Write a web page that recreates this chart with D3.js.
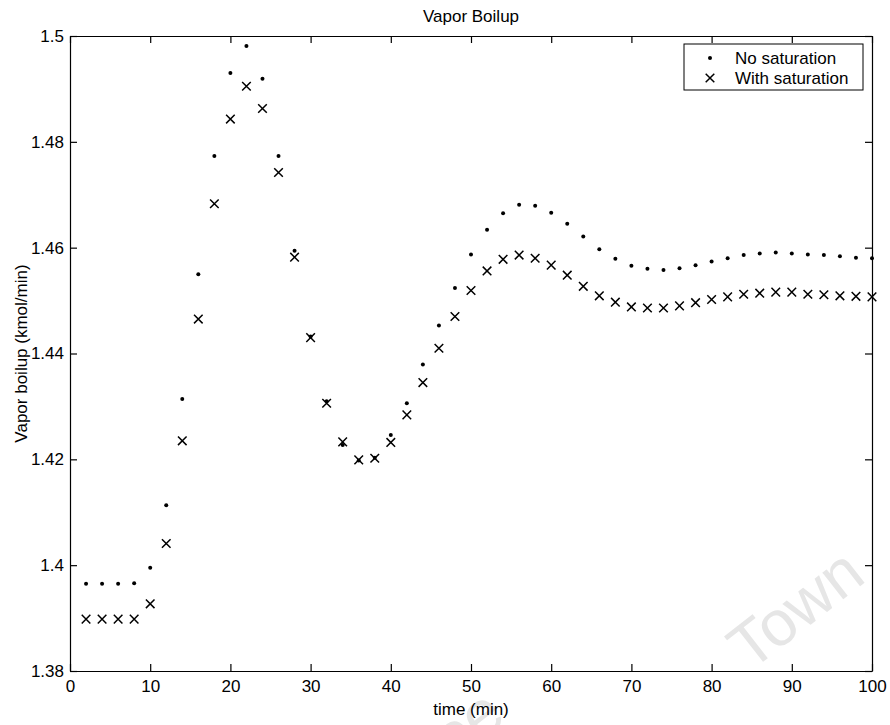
<!DOCTYPE html>
<html>
<head>
<meta charset="utf-8">
<script src="https://cdn.jsdelivr.net/npm/d3@7"></script>
<style>
  body { margin: 0; background: #fff; }
  svg { display: block; font-family: "Liberation Sans", Arial, Helvetica, sans-serif; }
</style>
</head>
<body>
<svg id="chart" width="890" height="725"></svg>
<script>
// sample times (min)
const times = [2, 4, 6, 8, 10, 12, 14, 16, 18, 20, 22, 24, 26, 28, 30, 32, 34, 36, 38, 40,
               42, 44, 46, 48, 50, 52, 54, 56, 58, 60, 62, 64, 66, 68, 70, 72, 74, 76, 78, 80,
               82, 84, 86, 88, 90, 92, 94, 96, 98, 100];

// vapor boilup, no saturation (dots)
const noSaturation = [1.3965, 1.3965, 1.3965, 1.3966, 1.3995, 1.4113, 1.4314, 1.4550, 1.4773, 1.4930,
                      1.4981, 1.4919, 1.4773, 1.4594, 1.4432, 1.4310, 1.4227, 1.4198, 1.4203, 1.4246,
                      1.4306, 1.4379, 1.4453, 1.4524, 1.4587, 1.4634, 1.4665, 1.4681, 1.4679, 1.4666,
                      1.4645, 1.4621, 1.4597, 1.4579, 1.4566, 1.4560, 1.4558, 1.4561, 1.4567, 1.4574,
                      1.4580, 1.4586, 1.4589, 1.4591, 1.4589, 1.4587, 1.4586, 1.4584, 1.4581, 1.4580];

// vapor boilup, with saturation (crosses)
const withSaturation = [1.3898, 1.3898, 1.3898, 1.3898, 1.3927, 1.4041, 1.4235, 1.4465, 1.4683, 1.4843,
                        1.4905, 1.4863, 1.4742, 1.4582, 1.4430, 1.4306, 1.4233, 1.4199, 1.4202, 1.4232,
                        1.4284, 1.4345, 1.4410, 1.4470, 1.4519, 1.4556, 1.4578, 1.4586, 1.4580, 1.4567,
                        1.4548, 1.4527, 1.4509, 1.4497, 1.4488, 1.4486, 1.4486, 1.4490, 1.4496, 1.4502,
                        1.4507, 1.4512, 1.4514, 1.4516, 1.4516, 1.4512, 1.4511, 1.4509, 1.4508, 1.4507];

const xTicks = [0, 10, 20, 30, 40, 50, 60, 70, 80, 90, 100];
const yTicks = [1.38, 1.40, 1.42, 1.44, 1.46, 1.48, 1.50];
const legendLabels = ["No saturation", "With saturation"];

const svg = d3.select("#chart");
const margin = {left: 70, right: 18, top: 36, bottom: 54};
const width = 890 - margin.left - margin.right;
const height = 725 - margin.top - margin.bottom;
const fontSize = 17;

// faint scan watermark (only partly inside the picture)
svg.append("g").attr("fill", "#e6e6e6").style("font-size", "64px")
   .selectAll("text")
   .data([{t: "Cape", x: 508, y: 720, a: "end"}, {t: "Town", x: 750, y: 672, a: "start"}])
   .join("text")
   .attr("transform", d => `translate(${d.x},${d.y}) rotate(-38)`)
   .attr("text-anchor", d => d.a)
   .text(d => d.t);

const g = svg.append("g").attr("transform", `translate(${margin.left},${margin.top})`);

const x = d3.scaleLinear().domain([0, 100]).range([0, width]);
const y = d3.scaleLinear().domain([1.38, 1.5]).range([height, 0]);

const fmt = d => String(+d.toFixed(2));

// axes, MATLAB style: ticks pointing inward on all four sides
function styleAxis(sel) {
    sel.selectAll("path.domain").attr("stroke", "#000").attr("stroke-width", 1.2);
    sel.selectAll(".tick line").attr("stroke", "#000").attr("stroke-width", 1.2);
    sel.selectAll(".tick text").attr("fill", "#000").style("font-size", fontSize + "px")
       .style("font-family", "Liberation Sans, Arial, sans-serif");
}

g.append("g").attr("transform", `translate(0,${height})`)
 .call(d3.axisBottom(x).tickValues(xTicks).tickFormat(d3.format("d")).tickSizeInner(-7).tickSizeOuter(0).tickPadding(9))
 .call(styleAxis);
g.append("g")
 .call(d3.axisTop(x).tickValues(xTicks).tickFormat("").tickSizeInner(-7).tickSizeOuter(0))
 .call(styleAxis);
g.append("g")
 .call(d3.axisLeft(y).tickValues(yTicks).tickFormat(fmt).tickSizeInner(-7).tickSizeOuter(0).tickPadding(6))
 .call(styleAxis);
g.append("g").attr("transform", `translate(${width},0)`)
 .call(d3.axisRight(y).tickValues(yTicks).tickFormat("").tickSizeInner(-7).tickSizeOuter(0))
 .call(styleAxis);

// title and axis labels
g.append("text").attr("x", width / 2).attr("y", -14).attr("text-anchor", "middle")
 .style("font-size", fontSize + "px").text("Vapor Boilup");
g.append("text").attr("x", width / 2).attr("y", height + 44).attr("text-anchor", "middle")
 .style("font-size", fontSize + "px").text("time (min)");
g.append("text").attr("transform", `translate(-43,${height / 2}) rotate(-90)`).attr("text-anchor", "middle")
 .style("font-size", fontSize + "px").text("Vapor boilup (kmol/min)");

// data markers
const crossSymbol = d3.symbol(d3.symbolX, 50);

g.append("g").selectAll("circle")
 .data(times.map((t, i) => [t, noSaturation[i]]))
 .join("circle")
 .attr("cx", d => x(d[0])).attr("cy", d => y(d[1])).attr("r", 2)
 .attr("fill", "#000");

g.append("g").selectAll("path")
 .data(times.map((t, i) => [t, withSaturation[i]]))
 .join("path")
 .attr("d", crossSymbol)
 .attr("transform", d => `translate(${x(d[0])},${y(d[1])})`)
 .attr("fill", "none").attr("stroke", "#000").attr("stroke-width", 1.5);

// legend
const legend = g.append("g").attr("transform", `translate(${width - 188},8)`);
legend.append("rect").attr("width", 179).attr("height", 46)
      .attr("fill", "#fff").attr("stroke", "#000").attr("stroke-width", 1);
legend.append("circle").attr("cx", 26).attr("cy", 14).attr("r", 2).attr("fill", "#000");
legend.append("path").attr("d", crossSymbol).attr("transform", "translate(26,34)")
      .attr("fill", "none").attr("stroke", "#000").attr("stroke-width", 1.5);
legend.selectAll("text.lbl").data(legendLabels).join("text").attr("class", "lbl")
      .attr("x", 51).attr("y", (d, i) => 20 + i * 20)
      .style("font-size", fontSize + "px").text(d => d);
</script>
</body>
</html>
